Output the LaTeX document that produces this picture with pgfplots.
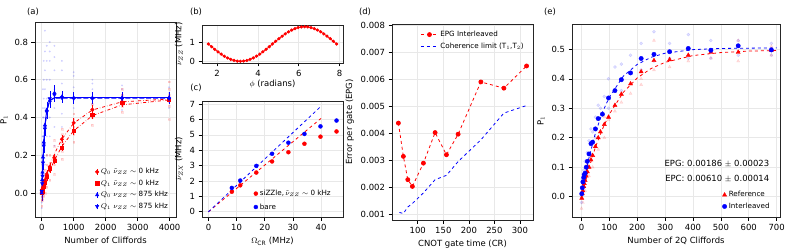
\documentclass[border=0pt]{standalone}
\usepackage{fontspec}
\setmainfont{DejaVu Sans}
\usepackage{pgfplots}
\pgfplotsset{compat=1.18}
\definecolor{gridc}{RGB}{232,232,232}
\pgfplotsset{
  panel/.style={
    scale only axis,
    anchor=south west,
    font=\fontsize{8.5}{10}\selectfont,
    /pgf/number format/assume math mode=true,
    /pgf/number format/1000 sep={},
    tick align=outside,
    tick pos=left,
    major tick length=3.5bp,
    tick style={black, line width=0.6pt},
    axis line style={black!85, line width=0.6pt},
    grid=major,
    major grid style={gridc, line width=0.6pt},
    legend style={font=\fontsize{7.2}{8.6}\selectfont, draw=none, fill=none, row sep=0.6pt},
    legend cell align=left,
    scaled ticks=false,
  },
  ebimg/.style={legend image code/.code={
     \draw[##1,mark=none,solid] (0.22cm,-0.1cm)--(0.22cm,0.1cm);
     \draw[##1,mark repeat=1,mark phase=1] plot coordinates {(0.22cm,0cm)};}},
  mkimg/.style={legend image code/.code={
     \draw[##1,mark repeat=1,mark phase=1] plot coordinates {(0.22cm,0cm)};}}
}
\begin{document}
\begin{tikzpicture}
\useasboundingbox (0,0) rectangle (789bp,250bp);
\tikzset{font=\fontsize{8.5}{10}\selectfont}
\node at (33bp,238bp) {(a)};
\node at (196bp,238bp) {(b)};
\node at (196bp,162bp) {(c)};
\node at (365bp,238bp) {(d)};
\node at (550bp,238bp) {(e)};

% ---------------- (a)
\begin{axis}[panel, at={(35bp,33bp)}, width=141bp, height=195bp,
  xmin=-210, xmax=4200, ymin=-0.127, ymax=0.906,
  xtick={0,1000,2000,3000,4000}, ytick={0,0.2,0.4,0.6,0.8},
  yticklabel style={/pgf/number format/.cd,fixed,fixed zerofill,precision=1},
  xlabel={Number of Cliffords}, ylabel={P$_1$},
  legend style={at={(0.98,0.015)},anchor=south east}]
\addplot[only marks, mark=*, mark size=0.8, blue, opacity=0.12, forget plot] coordinates {
(0,-0.05)(0,-0.02)(0,0.0)(0,0.02)(0,0.05)(0,0.08)(0,-0.08)
(16,0.0)(16,0.05)(16,0.1)(16,0.15)(16,0.2)(16,0.02)
(25,0.02)(25,0.08)(25,0.15)(25,0.25)(25,0.3)(25,0.1)
(40,0.05)(40,0.12)(40,0.2)(40,0.3)(40,0.4)(40,0.45)(40,0.55)
(63,0.1)(63,0.2)(63,0.3)(63,0.4)(63,0.5)(63,0.6)(63,0.7)
(100,0.15)(100,0.25)(100,0.35)(100,0.45)(100,0.55)(100,0.65)(100,0.75)(100,0.86)
(158,0.2)(158,0.3)(158,0.4)(158,0.5)(158,0.6)(158,0.7)(158,0.78)
(251,0.3)(251,0.4)(251,0.5)(251,0.6)(251,0.7)(251,0.75)(251,0.8)
(398,0.25)(398,0.35)(398,0.45)(398,0.55)(398,0.65)(398,0.72)(398,0.78)
(631,0.35)(631,0.42)(631,0.5)(631,0.58)(631,0.65)(631,0.7)
(1000,0.38)(1000,0.45)(1000,0.5)(1000,0.56)(1000,0.62)(1000,0.64)
(1585,0.42)(1585,0.47)(1585,0.5)(1585,0.55)(1585,0.58)(1585,0.6)
(2512,0.44)(2512,0.48)(2512,0.52)(2512,0.55)(2512,0.57)
(3981,0.45)(3981,0.48)(3981,0.5)(3981,0.53)(3981,0.56)};
\addplot[only marks, mark=square*, mark size=0.9, red, opacity=0.12, forget plot] coordinates {
(0,-0.07)(0,-0.04)(0,-0.02)(0,0.02)(0,0.04)
(16,-0.04)(16,0.0)(16,0.04)(25,-0.03)(25,0.02)(25,0.06)
(40,-0.02)(40,0.03)(40,0.07)(63,-0.01)(63,0.04)(63,0.09)
(100,0.0)(100,0.04)(100,0.08)(100,0.12)
(158,0.03)(158,0.07)(158,0.11)(158,0.15)(158,0.2)
(251,0.07)(251,0.12)(251,0.16)(251,0.2)
(398,0.1)(398,0.15)(398,0.2)(398,0.25)(398,0.28)
(631,0.18)(631,0.22)(631,0.27)(631,0.31)(631,0.34)
(1000,0.27)(1000,0.31)(1000,0.35)(1000,0.39)(1000,0.42)
(1585,0.36)(1585,0.4)(1585,0.44)(1585,0.47)(1585,0.5)
(2512,0.43)(2512,0.46)(2512,0.49)(2512,0.52)(2512,0.55)
(3981,0.39)(3981,0.46)(3981,0.49)(3981,0.52)(3981,0.55)(3981,0.59)};
% fits
\addplot[red, dash dot, line width=0.8pt, forget plot] coordinates {
(0,0)(100,0.063)(158,0.096)(251,0.144)(398,0.208)(631,0.286)(1000,0.370)(1585,0.440)(2512,0.483)(3981,0.498)};
\addplot[red, dash dot, line width=0.8pt, forget plot] coordinates {
(0,0)(100,0.051)(158,0.078)(251,0.119)(398,0.174)(631,0.247)(1000,0.330)(1585,0.410)(2512,0.467)(3981,0.493)};
\addplot[blue, line width=0.9pt, forget plot] coordinates {
(0,0.0)(16,0.07)(25,0.11)(40,0.18)(63,0.27)(100,0.36)(158,0.44)(251,0.49)(398,0.505)(631,0.506)(1000,0.506)(1585,0.506)(2512,0.506)(3981,0.506)};
\addplot[blue, dashed, dash pattern=on 5pt off 2pt, line width=0.9pt, forget plot] coordinates {
(0,0.01)(16,0.05)(25,0.09)(40,0.16)(63,0.25)(100,0.34)(158,0.43)(251,0.49)(398,0.503)(631,0.503)(1000,0.503)(1585,0.503)(2512,0.503)(3981,0.503)};
% data with error bars
\addplot[red, only marks, mark=*, mark size=1.8, forget plot, error bars/.cd, y dir=both, y explicit, error mark=none] coordinates {
(0,0.0) +- (0,0.02) (16,0.012) +- (0,0.02) (25,0.02) +- (0,0.02) (40,0.03) +- (0,0.02) (63,0.045) +- (0,0.02) (100,0.068) +- (0,0.02) (158,0.1) +- (0,0.02) (251,0.14) +- (0,0.02) (398,0.185) +- (0,0.02) (631,0.285) +- (0,0.02) (1000,0.372) +- (0,0.025) (1585,0.442) +- (0,0.025) (2512,0.482) +- (0,0.02) (3981,0.498) +- (0,0.02)};
\addplot[red, only marks, mark=square*, mark size=1.7, forget plot, error bars/.cd, y dir=both, y explicit, error mark=none] coordinates {
(0,0.005) +- (0,0.02) (16,0.01) +- (0,0.02) (25,0.015) +- (0,0.02) (40,0.022) +- (0,0.02) (63,0.035) +- (0,0.02) (100,0.055) +- (0,0.02) (158,0.085) +- (0,0.02) (251,0.128) +- (0,0.02) (398,0.172) +- (0,0.02) (631,0.24) +- (0,0.02) (1000,0.33) +- (0,0.025) (1585,0.415) +- (0,0.025) (2512,0.478) +- (0,0.02) (3981,0.495) +- (0,0.02)};
\addplot[blue, only marks, mark=triangle*, mark size=2, forget plot, error bars/.cd, y dir=both, y explicit, error mark=none] coordinates {
(0,0.0) +- (0,0.04) (16,0.07) +- (0,0.04) (25,0.11) +- (0,0.04) (40,0.19) +- (0,0.04) (63,0.27) +- (0,0.04) (100,0.36) +- (0,0.04) (158,0.44) +- (0,0.04) (251,0.49) +- (0,0.04) (398,0.53) +- (0,0.04) (631,0.51) +- (0,0.03) (1000,0.505) +- (0,0.03) (1585,0.505) +- (0,0.03) (2512,0.505) +- (0,0.03) (3981,0.505) +- (0,0.03)};
\addplot[blue, only marks, mark=triangle*, mark options={rotate=180}, mark size=2, forget plot, error bars/.cd, y dir=both, y explicit, error mark=none] coordinates {
(0,0.01) +- (0,0.04) (16,0.05) +- (0,0.04) (25,0.09) +- (0,0.04) (40,0.16) +- (0,0.04) (63,0.25) +- (0,0.04) (100,0.34) +- (0,0.04) (158,0.43) +- (0,0.04) (251,0.5) +- (0,0.04) (398,0.52) +- (0,0.04) (631,0.505) +- (0,0.03) (1000,0.5) +- (0,0.03) (1585,0.5) +- (0,0.03) (2512,0.5) +- (0,0.03) (3981,0.5) +- (0,0.03)};
\addlegendimage{red, mark=*, mark size=1.8, ebimg}
\addlegendentry{$Q_0$ $\tilde{\nu}_{ZZ}\sim$ 0 kHz}
\addlegendimage{red, mark=square*, mark size=1.7, ebimg}
\addlegendentry{$Q_1$ $\tilde{\nu}_{ZZ}\sim$ 0 kHz}
\addlegendimage{blue, mark=triangle*, mark size=2, ebimg}
\addlegendentry{$Q_0$ $\nu_{ZZ}\sim$ 875 kHz}
\addlegendimage{blue, mark=triangle*, mark options={rotate=180}, mark size=2, ebimg}
\addlegendentry{$Q_1$ $\nu_{ZZ}\sim$ 875 kHz}
\end{axis}

% ---------------- (b)
\begin{axis}[panel, at={(202bp,187bp)}, width=141bp, height=38bp,
  xmin=1.257, xmax=8.168, ymin=-0.09, ymax=1.89,
  xtick={2,4,6,8}, ytick={0,1},
  xlabel={$\phi$ (radians)}, ylabel={$\tilde{\nu}_{ZZ}$ (MHz)},
  xlabel style={yshift=3bp}]
\addplot[red, line width=0.8pt, mark=*, mark size=1.2] coordinates {
(1.571,0.900)(1.728,0.759)(1.885,0.622)(2.042,0.491)(2.199,0.371)(2.356,0.264)(2.513,0.172)(2.670,0.098)(2.827,0.044)(2.985,0.011)(3.142,0.000)
(3.299,0.011)(3.456,0.044)(3.613,0.098)(3.770,0.172)(3.927,0.264)(4.084,0.371)(4.241,0.491)(4.398,0.622)(4.555,0.759)(4.712,0.900)
(4.869,1.041)(5.027,1.178)(5.184,1.309)(5.341,1.429)(5.498,1.536)(5.655,1.628)(5.812,1.702)(5.969,1.756)(6.126,1.789)(6.283,1.800)
(6.440,1.789)(6.597,1.756)(6.754,1.702)(6.912,1.628)(7.069,1.536)(7.226,1.429)(7.383,1.309)(7.540,1.178)(7.697,1.041)(7.854,0.900)};
\end{axis}

% ---------------- (c)
\begin{axis}[panel, at={(202bp,33bp)}, width=141bp, height=116bp,
  xmin=-2.3, xmax=47.8, ymin=-0.34, ymax=7.2,
  xtick={0,10,20,30,40}, ytick={0,1,2,3,4,5,6,7},
  xlabel={$\Omega_{\mathrm{CR}}$ (MHz)}, ylabel={$\tilde{\nu}_{ZX}$ (MHz)},
  legend style={at={(0.95,0.02)},anchor=south east, row sep=2.5pt}]
\addplot[red, dashed, line width=0.8pt, forget plot] coordinates {(0,0)(40,6.07)};
\addplot[blue, dashed, line width=0.8pt, forget plot] coordinates {(0,0)(40,6.86)};
\addplot[red, only marks, mark=*, mark size=2, mkimg] coordinates {
(8.3,1.30)(11.3,1.72)(17.0,2.55)(22.6,3.27)(28.4,3.87)(34.1,4.42)(39.8,4.88)(45.5,5.22)};
\addplot[blue, only marks, mark=*, mark size=2, mkimg] coordinates {
(8.3,1.55)(11.3,2.03)(17.0,2.98)(22.6,3.77)(28.4,4.49)(34.1,5.06)(39.8,5.55)(45.5,5.93)};
\addlegendentry{siZZle,\,$\tilde{\nu}_{ZZ}\sim$ 0 kHz}
\addlegendentry{bare}
\end{axis}

% ---------------- (d)
\begin{axis}[panel, at={(392bp,30bp)}, width=141bp, height=196bp,
  xmin=49.5, xmax=325.6, ymin=0.0008, ymax=0.00804,
  xtick={100,150,200,250,300},
  ytick={0.001,0.002,0.003,0.004,0.005,0.006,0.007,0.008},
  yticklabel style={/pgf/number format/.cd,fixed,fixed zerofill,precision=3},
  xlabel={CNOT gate time (CR)}, ylabel={Error per gate (EPG)},
  legend style={at={(0.97,0.985)},anchor=north east}]
\addplot[red, dashed, line width=0.8pt, mark=*, mark size=2, mark options={solid}] coordinates {
(62.0,0.00438)(71.8,0.00315)(80.4,0.00229)(89.4,0.00204)(111,0.00290)(133.9,0.00403)(156.1,0.00321)(179,0.00397)(223.5,0.00590)(268.6,0.00567)(313,0.00649)};
\addlegendentry{EPG Interleaved}
\addplot[blue, dashed, line width=0.8pt] coordinates {
(64,0.00108)(71.8,0.00104)(80.4,0.00128)(89.4,0.00141)(111,0.00180)(133.9,0.00229)(156.1,0.00245)(179,0.00296)(223.5,0.00376)(268.6,0.00475)(313,0.00503)};
\addlegendentry{Coherence limit (T$_1$,T$_2$)}
\end{axis}

% ---------------- (e)
\begin{axis}[panel, at={(572bp,33bp)}, width=208bp, height=193bp,
  xmin=-34, xmax=712, ymin=-0.069, ymax=0.586,
  xtick={0,100,200,300,400,500,600,700},
  ytick={0,0.1,0.2,0.3,0.4,0.5},
  yticklabel style={/pgf/number format/.cd,fixed,fixed zerofill,precision=1},
  xlabel={Number of 2Q Cliffords}, ylabel={P$_1$},
  legend style={at={(0.975,0.015)},anchor=south east}]
\addplot[only marks, mark=*, mark size=1.6, blue, opacity=0.12, forget plot] coordinates {
(0,0.0)(3,0.06)(8,0.09)(13,0.12)(21,0.15)(27,0.19)(34,0.23)(40,0.22)(50,0.27)(60,0.31)(68,0.3)(82,0.34)(97,0.4)(120,0.44)(143,0.45)(176,0.48)(214,0.52)(260,0.56)(316,0.52)(383,0.55)(464,0.53)(562,0.53)(681,0.52)
(0,-0.02)(50,0.2)(97,0.3)(143,0.36)(214,0.43)(260,0.46)(316,0.47)(383,0.47)(464,0.47)(562,0.48)(681,0.48)};
\addplot[only marks, mark=triangle*, mark size=1.8, red, opacity=0.12, forget plot] coordinates {
(0,-0.04)(5,-0.02)(13,0.02)(27,0.07)(40,0.1)(60,0.16)(82,0.2)(97,0.26)(120,0.29)(143,0.32)(176,0.35)(214,0.38)(214,0.4)(260,0.43)(260,0.53)(316,0.44)(383,0.46)(464,0.47)(562,0.46)(562,0.53)(681,0.48)(681,0.51)(40,0.18)(82,0.27)(20,0.11)};
\addplot[red, dashed, line width=0.8pt, forget plot] coordinates {
(0,-0.003)(25,0.091)(50,0.168)(75,0.229)(100,0.280)(150,0.354)(200,0.403)(250,0.435)(300,0.456)(400,0.479)(500,0.489)(600,0.494)(700,0.496)};
\addplot[blue, dashed, line width=0.8pt, forget plot] coordinates {
(0,0.005)(25,0.125)(50,0.216)(75,0.286)(100,0.338)(150,0.409)(200,0.449)(250,0.473)(300,0.487)(400,0.499)(500,0.503)(600,0.504)(700,0.505)};
\addplot[red, only marks, mark=triangle*, mark size=2.4, mkimg] coordinates {
(1,-0.005)(3,0.01)(5,0.02)(8,0.035)(10,0.045)(13,0.055)(17,0.07)(21,0.085)(27,0.1)(34,0.125)(40,0.14)(50,0.17)(60,0.2)(68,0.22)(82,0.245)(97,0.27)(120,0.31)(143,0.348)(176,0.383)(214,0.424)(260,0.462)(316,0.465)(383,0.48)(464,0.49)(562,0.49)(681,0.497)};
\addplot[blue, only marks, mark=*, mark size=2.2, mkimg] coordinates {
(1,0.01)(3,0.03)(5,0.05)(8,0.065)(10,0.075)(13,0.08)(17,0.1)(21,0.12)(27,0.145)(34,0.18)(40,0.185)(50,0.23)(60,0.265)(75,0.28)(97,0.335)(120,0.36)(143,0.397)(176,0.42)(214,0.469)(260,0.483)(316,0.492)(383,0.503)(464,0.497)(562,0.512)(681,0.498)};
\legend{Reference, Interleaved}
\node[anchor=east] at (rel axis cs:0.965,0.275) {EPG: 0.00186 $\pm$ 0.00023};
\node[anchor=east] at (rel axis cs:0.965,0.197) {EPC: 0.00610 $\pm$ 0.00014};
\end{axis}
\end{tikzpicture}
\end{document}
